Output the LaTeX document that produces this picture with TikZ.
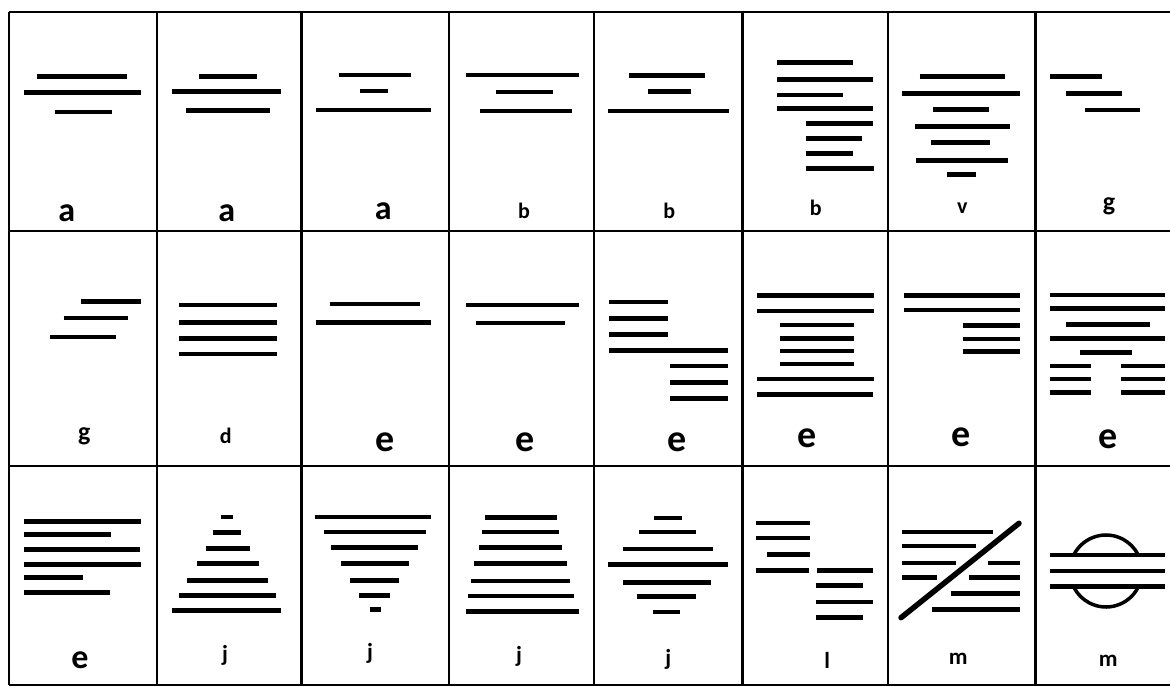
\documentclass[tikz,border=0pt]{standalone}
\usepackage{fontspec}
\setmainfont{Carlito}
\begin{document}
\begin{tikzpicture}[x=1pt,y=-1pt,
  bar/.style={line width=4.8pt},
  thinbar/.style={line width=3.8pt},
  gridline/.style={line width=2.5pt},
  bigbold/.style={font=\fontsize{34}{34}\selectfont\bfseries,anchor=base,inner sep=0pt},
  bigbolde/.style={font=\fontsize{38}{38}\selectfont\bfseries,anchor=base,inner sep=0pt},
  smallbold/.style={font=\fontsize{22}{22}\selectfont\bfseries,anchor=base,inner sep=0pt},
  gbold/.style={font=\fontsize{26}{26}\selectfont\bfseries,anchor=base,inner sep=0pt},
  plainlbl/.style={font=\fontsize{23}{23}\selectfont\bfseries,anchor=base,inner sep=0pt}]
\useasboundingbox (0,0) rectangle (1170,687);
% grid
\foreach \y in {12,231,466,685} \draw[gridline] (9,\y) -- (1170,\y);
\foreach \x in {9,157,301.5,449,594,742.5,888,1035.5} \draw[gridline] (\x,12) -- (\x,685);
% row 1
\foreach \a/\b/\y in {36.7/127.3/76.7, 24.3/141/92.7, 55/111.7/112,
  199.3/256.7/76.3, 172/281/91.7, 186/270.3/110.3,
  629.3/705.3/75.3, 648.3/690.7/91.3, 608.3/729.3/111,
  777/853.3/62.7, 777/872.7/79.7, 777/842.7/95, 777/872.7/108.3,
  805.7/872.7/123.3, 805.7/862/138.3, 805.7/852.7/153.3, 805.7/874/168.7,
  919.7/1004.7/76.3, 902/1019.7/93.7, 933/989.3/109.3, 915.3/1009.7/126.3,
  931/990.3/142.3, 916/1007.7/160.7, 947/976.3/174.7,
  1050/1102/76.7, 1066/1122.3/93.3, 1085/1139.7/110}
  \draw[bar] (\a,\y) -- (\b,\y);
\foreach \a/\b/\y in {339/411/75.3, 360/388/91, 315.7/430.7/110.3,
  466/579.3/75, 496/552.7/91.7, 480.3/571.7/110.7}
  \draw[thinbar] (\a,\y) -- (\b,\y);
% row 2
\foreach \a/\b/\y in {80.7/141.3/301.3, 63.7/128/318, 50.3/116.3/337,
  179/277/322.7, 179/277/338.3,
  315.7/430.7/322.7, 466/579.3/305,
  609.3/668/302, 609.3/668/318.7, 609.3/668/334.7, 609.3/728/350.3,
  670/728/366, 670/728/382.3, 670/728/398.7,
  757.3/874/295.7, 757.3/874/311, 780/853.7/325, 780/853.7/338.7,
  780/853.7/351, 780/853.7/364, 757.3/874/379, 757.3/873.3/394.3,
  904/1020.3/295.7, 904/1020.3/310, 963.3/1020.3/325.7, 963.3/1020.3/339, 963.3/1020.3/351.3,
  1050/1165/295, 1050/1165/308.3, 1066/1150/324.3, 1050/1165/338.7, 1080.3/1132/352.3,
  1050/1091/366, 1121.3/1165/366, 1050/1091/379, 1121.3/1165/379,
  1050/1091/392.3, 1121.3/1165/392.3}
  \draw[bar] (\a,\y) -- (\b,\y);
\foreach \a/\b/\y in {179/277/305.3, 179/277/354, 330/420/304.3, 476/564.7/322.7}
  \draw[thinbar] (\a,\y) -- (\b,\y);
% row 3
\foreach \a/\b/\y in {24/140.7/521.3, 24/110.7/534.3, 24/140/549.7, 24/141.3/564.7,
  24/82.7/577.7, 24/110/592.7,
  221.3/233.3/517, 213.3/241/532.3, 205.7/250.3/548.7, 197.3/258.7/563.7,
  187/267.7/580.7, 179/276/595.3, 172/281/610.7,
  314.7/430.7/517, 323.7/425.7/532, 330.7/418/547.3, 341/408.7/563.7,
  350.3/399/580.7, 359.3/390/595.3, 369.7/381/609.7,
  485/557/517.7, 481.7/559/532, 478.7/562.3/547.7, 474/566.7/563.3,
  471/570.3/581, 467.7/573.7/596, 466/579.3/611.7,
  608/728/564.3, 623.3/710.7/582.7, 637.3/696/596.3,
  755.7/810.3/523, 755.7/809.7/538, 767.3/809.7/554.3, 755.7/809/570.7,
  817/873.3/570.7, 815.7/863/585.7, 816.3/873.3/602, 816.3/863/617.7,
  902.3/993.3/532, 902.3/976/546, 902.3/956/563, 988.3/1019.7/563,
  902.3/936.7/577.7, 969.3/1019.7/577.7, 950.7/1019.7/593.3, 931.7/1019.7/609.7,
  1050/1165/555, 1050/1165/571, 1050/1165/586.3}
  \draw[bar] (\a,\y) -- (\b,\y);
\foreach \a/\b/\y in {653.7/682/517.7, 638.7/696/532, 623.3/712.7/549, 653.3/680.3/611.7}
  \draw[thinbar] (\a,\y) -- (\b,\y);
\draw[line width=5.5pt,line cap=round] (901,617.7) -- (1019,523.3);
\draw[line width=3.5pt] (1106,571) ++(28:36) arc[start angle=28,end angle=152,radius=36];
\draw[line width=3.5pt] (1106,571) ++(208:36) arc[start angle=208,end angle=332,radius=36];
% labels
\node[bigbold] (l11) at (66.7,221.7) {a};
\node[bigbold] (l12) at (226.7,221.7) {a};
\node[bigbold] (l13) at (383.3,220) {a};
\node[smallbold] (l14) at (524,218.3) {b};
\node[smallbold] (l15) at (669.3,218.3) {b};
\node[smallbold] (l16) at (815.7,216) {b};
\node[smallbold] (l17) at (962.3,213.3) {v};
\node[gbold] (l18) at (1109,211) {g};
\node[gbold] (l21) at (84.3,440) {g};
\node[smallbold] (l22) at (225.7,443.3) {d};
\node[bigbolde] (l23) at (385,451.7) {e};
\node[bigbolde] (l24) at (525,451.7) {e};
\node[bigbolde] (l25) at (677.3,451.7) {e};
\node[bigbolde] (l26) at (807.3,447.7) {e};
\node[bigbolde] (l27) at (960.7,446.7) {e};
\node[bigbolde] (l28) at (1108.3,448.3) {e};
\node[bigbold] (l31) at (80,668.3) {e};
\node[plainlbl] (l32) at (225,661) {j};
\node[plainlbl] (l33) at (370,659) {j};
\node[plainlbl] (l34) at (519,662) {j};
\node[plainlbl] (l35) at (668.3,665) {j};
\node[plainlbl] (l36) at (827.3,668.3) {l};
\node[plainlbl] (l37) at (958.3,664.3) {m};
\node[plainlbl] (l38) at (1108.3,666.7) {m};
\end{tikzpicture}
\end{document}
